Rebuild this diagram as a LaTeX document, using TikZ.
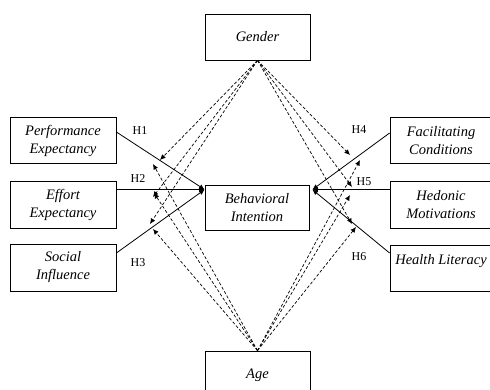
\documentclass[tikz,border=0pt]{standalone}
\usepackage{fontspec}
\setmainfont{Liberation Serif}
\usetikzlibrary{arrows.meta,calc}
\begin{document}
\begin{tikzpicture}[x=1pt,y=-1pt,
 box/.style={draw, line width=0.8pt, minimum width=106pt, minimum height=46pt, align=center, font=\fontsize{14.5}{18}\selectfont\itshape, inner sep=0pt},
 rel/.style={line width=0.8pt, -{Latex[length=5.5pt,width=5pt]}},
 mod/.style={line width=0.7pt, dash pattern=on 3pt off 2pt, -{Latex[length=5.5pt,width=5pt]}},
 hl/.style={font=\fontsize{12}{14}\selectfont, inner sep=0pt}]
\useasboundingbox (0,0) rectangle (490,390);
\fill[white] (0,0) rectangle (490,390);
\clip (0,0) rectangle (490,390);
% boxes
\node[box, minimum width=105pt] (G) at (257.5,37) {Gender};
\node[box] (PE) at (63,140.5) {Performance\\Expectancy};
\node[box, minimum height=47pt] (EE) at (63,204.5) {Effort\\Expectancy};
\node[box, minimum height=47pt] (SI) at (63,267.5) {Social\\Influence};
\node[box, minimum width=104pt, minimum height=45pt] (BI) at (257,207.5) {Behavioral\\Intention};
\node[box, minimum width=102pt] (FC) at (441,140.5) {Facilitating\\Conditions};
\node[box, minimum width=102pt, minimum height=47pt] (HM) at (441,204.5) {Hedonic\\Motivations};
\node[box, minimum width=102pt] (HL) at (441,268) {Health Literacy\\\mbox{}};
\node[box, minimum width=105pt, minimum height=48pt] (A) at (257.5,375) {Age};
% join points
\coordinate (biL) at ($(BI.north west)+(0,5)$);
\coordinate (biR) at ($(BI.north east)+(3,5)$);
\coordinate (pe) at ($(PE.east)+(0,-8.5)$);
\coordinate (si) at ($(SI.east)+(0,-14.5)$);
\coordinate (fc) at ($(FC.west)+(0,-7.5)$);
\coordinate (hlw) at ($(HL.west)+(0,-15)$);
% hypotheses
\draw[rel] (pe) -- (biL);
\draw[rel] (EE.east |- biL) -- (biL);
\draw[rel] (si) -- (biL);
\draw[rel] (fc) -- (biR);
\draw[rel] (HM.west |- biR) -- (biR);
\draw[rel] (hlw) -- (biR);
\node[hl] (h1) at (140,131) {H1};
\node[hl] (h2) at (138,179) {H2};
\node[hl] (h3) at (138,263) {H3};
\node[hl] (h4) at (359,130) {H4};
\node[hl] (h5) at (364,182) {H5};
\node[hl] (h6) at (359,257) {H6};
% moderator tips
\coordinate (g1) at (160,160);
\coordinate (g2) at (153,197);
\coordinate (g3) at (150,224);
\coordinate (a1) at (153,164);
\coordinate (a2) at (154,193);
\coordinate (a3) at (153,229);
\coordinate (g4) at (350,155);
\coordinate (g5) at (352,187);
\coordinate (g6) at (352,224);
\coordinate (a4) at (360,160);
\coordinate (a5) at (350,195);
\coordinate (a6) at (356,227);
\foreach \t in {g1,g2,g3,g4,g5,g6} \draw[mod] (G.south) -- (\t);
\foreach \t in {a1,a2,a3,a4,a5,a6} \draw[mod] (A.north) -- (\t);
\end{tikzpicture}
\end{document}
